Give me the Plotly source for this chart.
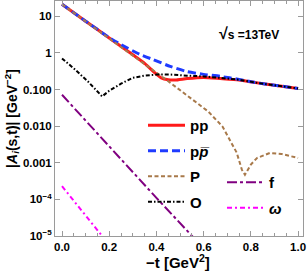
import plotly.graph_objects as go

# ---- data ----
t_pp = [0.0, 0.1, 0.2, 0.3, 0.35, 0.39, 0.42, 0.45, 0.48, 0.53, 0.6, 0.67, 0.75, 0.82, 0.9, 1.0]
A_pp = [21.4, 7.4, 2.57, 0.89, 0.52, 0.30, 0.21, 0.185, 0.182, 0.20, 0.215, 0.20, 0.182, 0.155, 0.132, 0.107]

t_ppbar = [0.0, 0.1, 0.2, 0.25, 0.33, 0.386, 0.458, 0.53, 0.6, 0.67, 0.75, 0.82, 0.9, 1.0]
A_ppbar = [21.4, 7.4, 2.63, 1.7, 0.91, 0.66, 0.43, 0.31, 0.26, 0.23, 0.19, 0.155, 0.132, 0.107]

t_P = [0.0, 0.1, 0.2, 0.3, 0.4, 0.458, 0.55, 0.62, 0.68, 0.74, 0.762, 0.775, 0.8, 0.826, 0.88, 0.93, 1.0]
A_P = [21.4, 7.2, 2.5, 0.85, 0.29, 0.155, 0.056, 0.025, 0.0098, 0.0019, 6.5e-4, 4.7e-4, 8.9e-4, 1.35e-3, 1.85e-3, 1.75e-3, 1.35e-3]

t_O = [0.0, 0.055, 0.11, 0.14, 0.17, 0.2, 0.25, 0.3, 0.35, 0.4, 0.46, 0.53, 0.6, 0.7, 0.75, 0.82, 0.9, 1.0]
A_O = [0.71, 0.355, 0.166, 0.107, 0.065, 0.093, 0.145, 0.21, 0.24, 0.257, 0.257, 0.24, 0.229, 0.20, 0.186, 0.155, 0.132, 0.107]

t_f = [0.0, 0.2, 0.4, 0.58]
A_f = [0.072, 2.8e-3, 1.1e-4, 6.3e-6]

t_w = [0.0, 0.1, 0.19]
A_w = [2.3e-4, 3.6e-5, 6.9e-6]

y_tickvals = [10, 1, 0.1, 0.01, 0.001, 1e-4, 1e-5]
y_ticktext = ["10", "1", "0.100", "0.010", "0.001", "10<sup>−4</sup>", "10<sup>−5</sup>"]
x_tickvals = [0.0, 0.2, 0.4, 0.6, 0.8, 1.0]
x_ticktext = ["0.0", "0.2", "0.4", "0.6", "0.8", "1.0"]

FONT = "Liberation Sans, Arial, sans-serif"

fig = go.Figure()

def add(x, y, name, color, width, dash, legend, group, shape="linear"):
    fig.add_trace(go.Scatter(
        x=x, y=y, mode="lines", name=name,
        line=dict(color=color, width=width, dash=dash, shape=shape, smoothing=0.5),
        legend=legend, legendgroup=group, hoverinfo="skip",
    ))

add(t_pp, A_pp, "pp", "#FF1A1A", 3, "solid", "legend", "g1", "spline")
add(t_ppbar, A_ppbar, "p<i>p\u0305</i>", "#1F3BFF", 3, "8px,4px", "legend", "g2", "spline")
add(t_P, A_P, "P", "#A8794A", 2, "4px,2.5px", "legend", "g3")
add(t_O, A_O, "O", "#000000", 2, "4px,2px,1.5px,2px", "legend", "g4")
add(t_f, A_f, "f", "#800080", 2, "10px,3px,3px,3px", "legend2", "g5")
add(t_w, A_w, "<i>ω</i>", "#FF00FF", 2, "5px,3px,2px,3px", "legend2", "g6")

axis_common = dict(
    showline=True, linecolor="#9a9a9a", linewidth=1, mirror="ticks",
    ticks="inside", ticklen=5, tickcolor="#9a9a9a", tickwidth=1,
    showgrid=False, zeroline=False, automargin=False,
    tickfont=dict(family=FONT, size=11.5, color="black", weight=700),
)

fig.update_xaxes(
    range=[-0.0297, 1.021], tickmode="array", tickvals=x_tickvals, ticktext=x_ticktext,
    minor=dict(ticks="inside", ticklen=3, dtick=0.05, tickcolor="#9a9a9a", showgrid=False),
    **axis_common,
)
fig.update_yaxes(
    type="log", range=[-5, 1.42], tickmode="array", tickvals=y_tickvals, ticktext=y_ticktext,
    title=dict(text="|<i>A<sub>i</sub></i>(s,t)| [GeV<sup>−2</sup>]", font=dict(family=FONT, size=14, color="black", weight=700), standoff=2),
    **axis_common,
)

legend_common = dict(
    bgcolor="rgba(0,0,0,0)", borderwidth=0, itemwidth=37,
    font=dict(family=FONT, size=15, color="black", weight=700),
    tracegroupgap=3, xanchor="left", yanchor="top", itemclick=False,
)
fig.update_layout(
    width=307, height=277,
    margin=dict(l=55, r=4, t=1, b=41, autoexpand=False),
    paper_bgcolor="white", plot_bgcolor="white",
    showlegend=True, hovermode=False,
    legend=dict(x=(143 - 55) / 248, y=1 - (109 - 1) / 235, **legend_common),
    legend2=dict(x=(222 - 55) / 248, y=1 - (166 - 1) / 235, **legend_common),
    annotations=[
        dict(
            text="<span style='font-size:16px'>√</span>s =13TeV",
            xref="paper", yref="paper", x=(249 - 55) / 248, y=1 - (34 - 1) / 235,
            xanchor="center", yanchor="middle",
            showarrow=False, font=dict(family=FONT, size=12, color="black", weight=700),
        ),
        dict(
            text="−t [GeV<sup>2</sup>]",
            xref="paper", yref="paper", x=(178 - 55) / 248, y=1 - (261 - 1) / 235,
            xanchor="center", yanchor="middle",
            showarrow=False, font=dict(family=FONT, size=15, color="black", weight=700),
        ),
    ],
)

fig.write_html("out.html", config={"displayModeBar": False},
               post_script="document.body.style.margin='0';")
